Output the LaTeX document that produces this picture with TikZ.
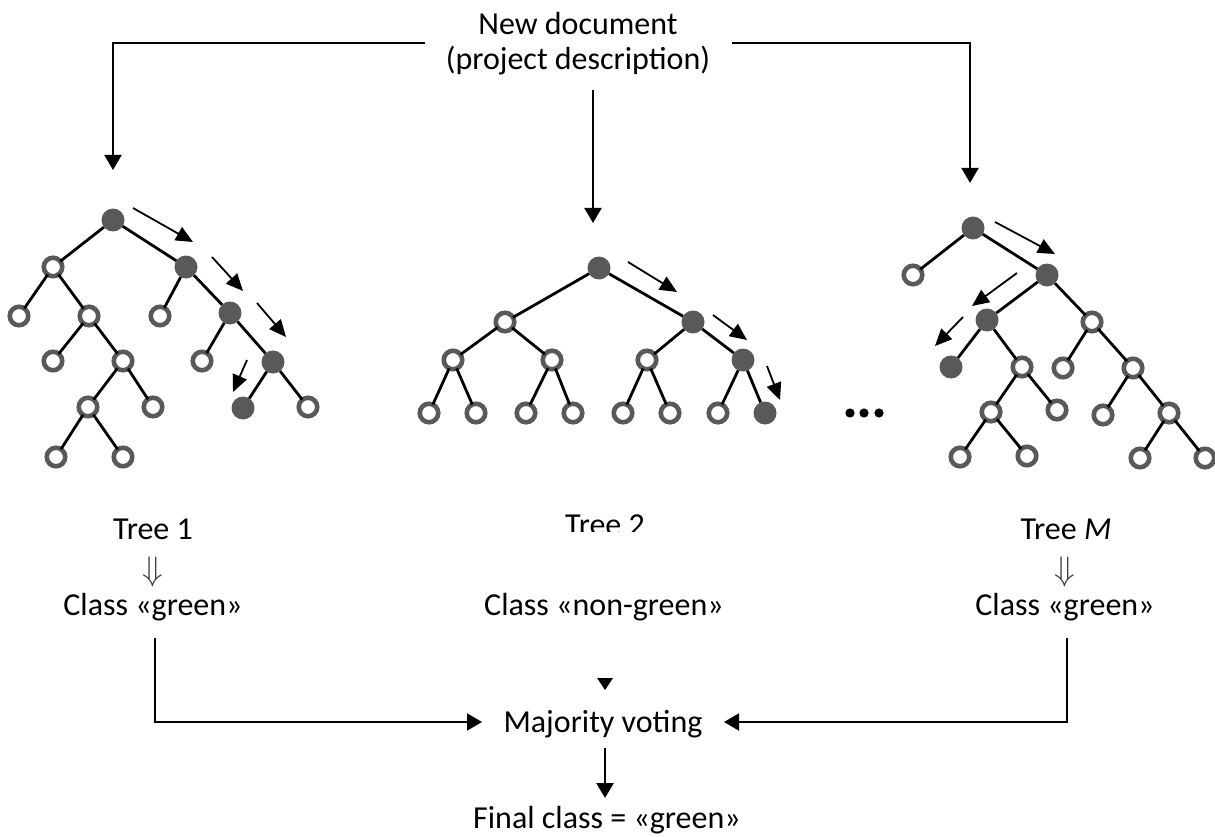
\documentclass[tikz,border=0pt]{standalone}
\usepackage{fontspec}
\usepackage{graphicx}
\setmainfont{Carlito}
\usetikzlibrary{arrows.meta}
\definecolor{ng}{RGB}{89,89,89}
\begin{document}
\begin{tikzpicture}[x=1pt,y=-1pt,
  on/.style={circle,draw=ng,line width=4.6pt,fill=white,inner sep=0pt,minimum size=18.5pt,outer sep=0pt},
  fn/.style={circle,fill=ng,inner sep=0pt,minimum size=23pt,outer sep=0pt},
  edge/.style={line width=2.8pt,black},
  tarr/.style={line width=1.8pt,-{Triangle[length=17pt,width=15pt]}},
  arr/.style={line width=2pt,-{Triangle[length=15pt,width=17pt]}},
  lbl/.style={font=\fontsize{32}{38}\selectfont,inner sep=0pt,anchor=base},
  dn/.style={text=black!75,inner sep=0pt}]
\useasboundingbox (0,0) rectangle (1215,837);
\fill[white] (0,0) rectangle (1215,837);

% ---------- Tree 1 ----------
\node[fn] (a1) at (113,220) {};
\node[on] (a2) at (53,267) {};
\node[fn] (a3) at (186,267) {};
\node[on] (a4) at (19,316) {};
\node[on] (a5) at (89,316) {};
\node[on] (a6) at (53,361) {};
\node[on] (a7) at (123,361) {};
\node[on] (a8) at (88,407) {};
\node[on] (a9) at (153,407) {};
\node[on] (a10) at (56,457) {};
\node[on] (a11) at (123,457) {};
\node[on] (a12) at (160,316) {};
\node[fn] (a13) at (230,313) {};
\node[on] (a14) at (202,361) {};
\node[fn] (a15) at (273,362) {};
\node[fn] (a16) at (243,408) {};
\node[on] (a17) at (308,407) {};
\foreach \u/\v in {a1/a2,a1/a3,a2/a4,a2/a5,a5/a6,a5/a7,a7/a8,a7/a9,a8/a10,a8/a11,a3/a12,a3/a13,a13/a14,a13/a15,a15/a16,a15/a17}
  \draw[edge] (\u) -- (\v);
\draw[tarr] (133,208) -- (193,242);
\draw[tarr] (212,257) -- (243,291);
\draw[tarr] (257,303) -- (286,337);
\draw[tarr] (247,360) -- (233,392);

% ---------- Tree 2 ----------
\node[fn] (b1) at (599,268) {};
\node[on] (b2) at (505,322) {};
\node[fn] (b3) at (693,322) {};
\node[on] (b4) at (453,360) {};
\node[on] (b5) at (552,360) {};
\node[on] (b6) at (647,360) {};
\node[fn] (b7) at (743,360) {};
\node[on] (b8) at (429,413) {};
\node[on] (b9) at (476,413) {};
\node[on] (b10) at (526,413) {};
\node[on] (b11) at (573,413) {};
\node[on] (b12) at (623,413) {};
\node[on] (b13) at (670,413) {};
\node[on] (b14) at (718,413) {};
\node[fn] (b15) at (765,413) {};
\foreach \u/\v in {b1/b2,b1/b3,b2/b4,b2/b5,b3/b6,b3/b7,b4/b8,b4/b9,b5/b10,b5/b11,b6/b12,b6/b13,b7/b14,b7/b15}
  \draw[edge] (\u) -- (\v);
\draw[tarr] (628,262) -- (677,292);
\draw[tarr] (713,315) -- (747,340);
\draw[tarr] (767,366) -- (780,400);

% ---------- Tree M ----------
\node[fn] (c1) at (973,228) {};
\node[on] (c2) at (913,275) {};
\node[fn] (c3) at (1047,275) {};
\node[fn] (c4) at (987,320) {};
\node[on] (c5) at (1092,322) {};
\node[fn] (c6) at (951,367) {};
\node[on] (c7) at (1022,367) {};
\node[on] (c8) at (991,412) {};
\node[on] (c9) at (1057,410) {};
\node[on] (c10) at (960,457) {};
\node[on] (c11) at (1027,456) {};
\node[on] (c12) at (1063,368) {};
\node[on] (c13) at (1133,368) {};
\node[on] (c14) at (1103,415) {};
\node[on] (c15) at (1169,413) {};
\node[on] (c16) at (1140,458) {};
\node[on] (c17) at (1205,458) {};
\foreach \u/\v in {c1/c2,c1/c3,c3/c4,c3/c5,c4/c6,c4/c7,c7/c8,c7/c9,c8/c10,c8/c11,c5/c12,c5/c13,c13/c14,c13/c15,c15/c16,c15/c17}
  \draw[edge] (\u) -- (\v);
\draw[tarr] (995,222) -- (1055,254);
\draw[tarr] (1017,273) -- (972,306);
\draw[tarr] (963,317) -- (935,346);

% dots
\foreach \x in {850,864,879} \fill (\x,413) circle (4.6pt);

% ---------- texts ----------
\node[lbl] (doc) at (578,35) {New document};
\node[lbl] (docb) at (578,70) {(project description)};
\node[lbl] (t1) at (153,539) {Tree 1};
\begin{scope}
  \clip (500,480) rectangle (700,531);
  \node[lbl] (t2) at (605,535) {Tree 2};
\end{scope}
\node[lbl] (tm) at (1066,539) {Tree \textit{M}};
\node[dn] (d1) at (153,572) {\scalebox{3.4}{$\Downarrow$}};
\node[dn] (dm) at (1065,572) {\scalebox{3.4}{$\Downarrow$}};
\node[lbl] (k1) at (153,615) {Class «green»};
\node[lbl] (k2) at (604,615) {Class «non-green»};
\node[lbl] (km) at (1065,615) {Class «green»};
\node[lbl] (mv) at (603,732) {Majority voting};
\node[lbl] (fc) at (607,828) {Final class = «green»};

% ---------- connectors ----------
\coordinate (pl) at (425,43);
\coordinate (pr) at (732,43);
\coordinate (pc) at (593,90);
\coordinate (e1) at (113,170);
\coordinate (e2) at (593,223);
\coordinate (em) at (970,183);
\draw[arr] (pl) -| (e1);
\draw[arr] (pr) -| (em);
\draw[arr] (pc) -- (e2);

\coordinate (s1) at (155,638);
\coordinate (sm) at (1067,638);
\coordinate (m1) at (482,722);
\coordinate (mm) at (724,722);
\draw[arr] (s1) |- (m1);
\draw[arr] (sm) |- (mm);
\fill (597,678) -- (613,678) -- (605,690) -- cycle;
\coordinate (f0) at (605,748);
\coordinate (f1) at (605,798);
\draw[arr,line width=2.5pt] (f0) -- (f1);
\end{tikzpicture}
\end{document}
